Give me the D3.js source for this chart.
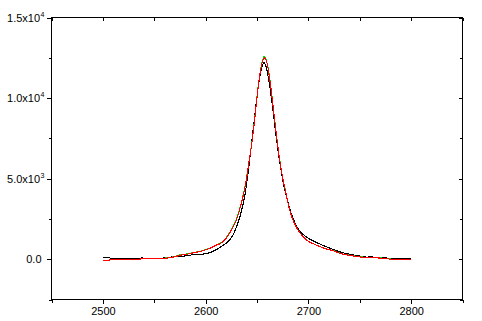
<!DOCTYPE html>
<html><head><meta charset="utf-8">
<script src="https://cdn.jsdelivr.net/npm/d3@7"></script>
<style>
body{margin:0;background:#fff}
svg{display:block}
text{font-family:"Liberation Sans",Arial,sans-serif;font-size:11px;fill:#000}
</style>
</head><body>
<svg id="c" width="482" height="321"></svg>
<script>
// ---- data ----
const xMajorTicks = [2500, 2600, 2700, 2800];
const xMinorTicks = [2450, 2550, 2650, 2750, 2850];
const yMajorTicks = [0, 5000, 10000, 15000];
const yMinorTicks = [-2500, 2500, 7500, 12500];
const xTickLabels = ["2500", "2600", "2700", "2800"];
const yTickMantissa = ["0.0", "5.0x10", "1.0x10", "1.5x10"];
const yTickExponent = ["", "3", "4", "4"];

// measured spectrum (black)
const blackX = [2500,2506,2508,2535,2538,2541,2545,2555,2562,2568,2575,2580,2585,2590,2595,2600,2605,2608,2612,2617,2620,2624,2627,2630,2633,2635,2638,2641,2644,2647,2650,2653,2656,2657,2659,2662,2665,2668,2671,2674,2677,2680,2683,2686,2689,2692,2696,2700,2706,2712,2718,2725,2731,2740,2750,2757,2760,2765,2772,2780,2790,2800];
const blackY = [100,100,20,20,90,30,50,60,90,143,150,205,250,300,280,360,420,515,650,868,1000,1240,1550,2002,2550,3037,3900,5200,6800,8450,10100,11400,12150,12200,11900,10900,9500,7950,6500,5300,4300,3550,2900,2400,2000,1700,1480,1300,1100,920,760,590,450,310,200,130,150,110,90,60,45,40];

// fitted curves (red and green)
const fitX = [2500,2506,2508,2535,2540,2560,2570,2575,2580,2585,2590,2595,2600,2605,2610,2615,2620,2625,2630,2633,2636,2639,2642,2645,2648,2651,2654,2657,2660,2663,2666,2669,2672,2675,2678,2681,2684,2687,2690,2694,2698,2705,2712,2718,2725,2731,2740,2750,2760,2770,2777,2780,2800];
const redY = [-60,-60,0,0,40,60,150,248,290,353,420,480,580,700,860,1000,1300,1800,2450,3050,3800,4690,5950,7200,8820,10600,11900,12500,12100,10900,9300,7650,6200,5050,4150,3250,2600,2150,1800,1460,1200,950,760,630,510,360,240,140,100,70,30,0,-10];
const greenY = [-60,-60,0,0,50,70,165,265,305,370,440,500,600,720,880,1030,1330,1830,2480,3080,3830,4720,5980,7230,8850,10640,11950,12580,12130,10920,9310,7660,6210,5060,4160,3260,2610,2160,1810,1470,1210,960,770,640,520,370,250,150,110,80,40,10,0];

// ---- layout ----
const W = 482, H = 321;
const m = {l:51, t:17, r:20, b:22};
const svg = d3.select("#c");
const x = d3.scaleLinear().domain([2450, 2850]).range([m.l + 0.5, W - m.r + 0.5]);
const y = d3.scaleLinear().domain([-2500, 15000]).range([H - m.b + 0.5, m.t + 0.5]);

// curves
const line = (xs, ys) => d3.line()
  .x((d, i) => x(xs[i])).y((d, i) => y(ys[i]))
  .curve(d3.curveMonotoneX)(ys);

svg.append("path").attr("d", line(blackX, blackY))
  .attr("fill","none").attr("stroke","#000").attr("stroke-width",1.1)
  .attr("shape-rendering","crispEdges");
svg.append("path").attr("d", line(fitX, greenY))
  .attr("fill","none").attr("stroke","#00e000").attr("stroke-width",1.1)
  .attr("shape-rendering","crispEdges");
svg.append("path").attr("d", line(fitX, redY))
  .attr("fill","none").attr("stroke","#ff0000").attr("stroke-width",1.1)
  .attr("shape-rendering","crispEdges");

// frame
svg.append("rect")
  .attr("x", x(2450)).attr("y", y(15000))
  .attr("width", x(2850) - x(2450)).attr("height", y(-2500) - y(15000))
  .attr("fill","none").attr("stroke","#000").attr("stroke-width",1.3)
  .attr("shape-rendering","crispEdges");

function styleAxis(g){
  g.select(".domain").remove();
  g.selectAll("line").attr("stroke","#000").attr("stroke-width",1)
    .attr("shape-rendering","crispEdges");
}

// bottom axis (outward)
svg.append("g").attr("transform",`translate(0,${y(-2500)})`)
  .call(d3.axisBottom(x).tickValues(xMajorTicks).tickSize(4)
        .tickFormat((d,i)=>xTickLabels[i]))
  .call(styleAxis)
  .call(g=>g.selectAll("text").attr("y",8).attr("font-size",11)
        .attr("font-family",'"Liberation Sans",Arial,sans-serif').attr("fill","#000"));
svg.append("g").attr("transform",`translate(0,${y(-2500)})`)
  .call(d3.axisBottom(x).tickValues(xMinorTicks).tickSize(3).tickFormat(""))
  .call(styleAxis);

// top axis (inward)
svg.append("g").attr("transform",`translate(0,${y(15000)})`)
  .call(d3.axisTop(x).tickValues(xMajorTicks.concat(xMinorTicks)).tickSize(-3).tickFormat(""))
  .call(styleAxis);

// left axis (outward)
svg.append("g").attr("transform",`translate(${x(2450)},0)`)
  .call(d3.axisLeft(y).tickValues(yMajorTicks).tickSize(5).tickFormat(""))
  .call(styleAxis);
svg.append("g").attr("transform",`translate(${x(2450)},0)`)
  .call(d3.axisLeft(y).tickValues(yMinorTicks).tickSize(3).tickFormat(""))
  .call(styleAxis);

// left labels with superscripts
yMajorTicks.forEach((v,i)=>{
  const hasExp = yTickExponent[i] !== "";
  const t = svg.append("text")
    .attr("x", hasExp ? 44.5 : 41.5)
    .attr("y", y(v) + 4)
    .attr("text-anchor","end");
  t.append("tspan").text(yTickMantissa[i]);
  if (hasExp) {
    t.append("tspan").attr("dy",-5).attr("font-size",7).attr("dx",0.5).text(yTickExponent[i]);
  }
});

// right axis (inward)
svg.append("g").attr("transform",`translate(${x(2850)},0)`)
  .call(d3.axisRight(y).tickValues(yMajorTicks).tickSize(-4).tickFormat(""))
  .call(styleAxis);
svg.append("g").attr("transform",`translate(${x(2850)},0)`)
  .call(d3.axisRight(y).tickValues(yMinorTicks).tickSize(-3).tickFormat(""))
  .call(styleAxis);
</script>
</body></html>
